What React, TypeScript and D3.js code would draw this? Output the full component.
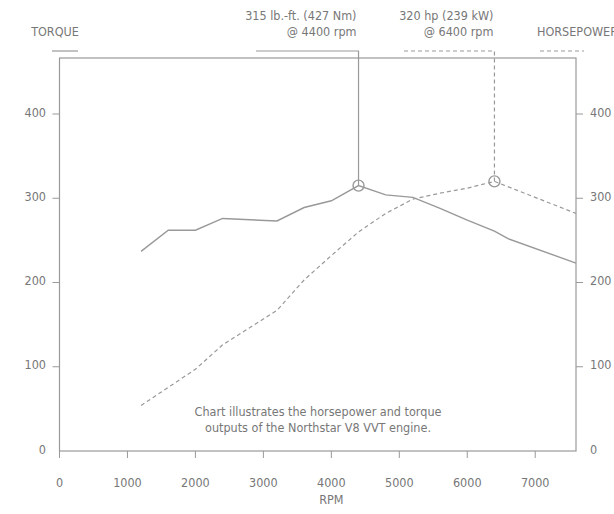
import React from "react";
import * as d3 from "d3";

const rpmTorque = [1200, 1600, 2000, 2400, 3200, 3600, 4000, 4400, 4800, 5200, 5600, 6000, 6400, 6600, 7600];
const torqueValues = [237, 262, 262, 276, 273, 289, 297, 315, 304, 301, 288, 274, 261, 252, 223];
const rpmHp = [1200, 2000, 2400, 3200, 3600, 4000, 4400, 4800, 5200, 5600, 6000, 6400, 7600];
const hpValues = [54, 97, 126, 167, 203, 232, 260, 282, 299, 306, 312, 320, 282];
const xTicks = [0, 1000, 2000, 3000, 4000, 5000, 6000, 7000];
const yTicks = [0, 100, 200, 300, 400];
const torquePeak = { rpm: 4400, value: 315, line1: "315 lb.-ft. (427 Nm)", line2: "@ 4400 rpm" };
const hpPeak = { rpm: 6400, value: 320, line1: "320 hp (239 kW)", line2: "@ 6400 rpm" };
const note = ["Chart illustrates the horsepower and torque", "outputs of the Northstar V8 VVT engine."];

const W = 614, H = 514;
const left = 59.5, right = 576, top = 58, bottom = 451;
const FONT = "'Liberation Sans Narrow', 'DejaVu Sans Condensed', 'Roboto Condensed', sans-serif";
const TEXT = "#777";
const LINE = "#999";

export default function App() {
  const x = d3.scaleLinear().domain([0, 7600]).range([left, right]);
  const y = d3.scaleLinear().domain([0, 400]).range([bottom, 114]);
  const line = d3.line<[number, number]>().x((d) => x(d[0])).y((d) => y(d[1]));
  const tPath = line(rpmTorque.map((r, i) => [r, torqueValues[i]]) as [number, number][]) || "";
  const hPath = line(rpmHp.map((r, i) => [r, hpValues[i]]) as [number, number][]) || "";
  const legendY = 51;
  const tx = x(torquePeak.rpm), ty = y(torquePeak.value);
  const hx = x(hpPeak.rpm), hy = y(hpPeak.value);
  const fs = 12.5;
  return (
    <svg width={W} height={H} style={{ position: "absolute", left: 0, top: 0, background: "#fff" }} fontFamily={FONT}>
      {/* frame */}
      <rect x={left} y={top} width={right - left} height={bottom - top} fill="none" stroke={LINE} strokeWidth={1.2} />
      {/* left axis ticks */}
      {yTicks.map((t) => (
        <g key={"l" + t}>
          {t > 0 && <line x1={left - 7} x2={left} y1={y(t)} y2={y(t)} stroke={LINE} strokeWidth={1} />}
          <text x={46} y={y(t) - 1} textAnchor="end" dominantBaseline="middle" fontSize={fs} fill={TEXT}>{t}</text>
          {t > 0 && <line x1={right} x2={right + 7} y1={y(t)} y2={y(t)} stroke={LINE} strokeWidth={1} />}
          <text x={590} y={y(t) - 1} textAnchor="start" dominantBaseline="middle" fontSize={fs} fill={TEXT}>{t}</text>
        </g>
      ))}
      {/* x axis ticks */}
      {xTicks.map((t) => (
        <g key={"x" + t}>
          <line x1={x(t)} x2={x(t)} y1={bottom} y2={bottom + 7} stroke={LINE} strokeWidth={1} />
          <text x={x(t)} y={483} textAnchor="middle" dominantBaseline="middle" fontSize={fs} fill={TEXT}>{t}</text>
        </g>
      ))}
      <text x={x(4000)} y={500} textAnchor="middle" dominantBaseline="middle" fontSize={fs} fill={TEXT}>RPM</text>
      {/* series */}
      <path d={hPath} fill="none" stroke={LINE} strokeWidth={1.2} strokeDasharray="4,3" />
      <path d={tPath} fill="none" stroke={LINE} strokeWidth={1.4} />
      {/* legend */}
      <text x={55} y={32} textAnchor="middle" dominantBaseline="middle" fontSize={fs} fill={TEXT}>TORQUE</text>
      <line x1={52} x2={78} y1={legendY} y2={legendY} stroke={LINE} strokeWidth={1.2} />
      <text x={537} y={32} textAnchor="start" dominantBaseline="middle" fontSize={fs} fill={TEXT}>HORSEPOWER</text>
      <line x1={540} x2={584} y1={legendY} y2={legendY} stroke={LINE} strokeWidth={1.2} strokeDasharray="4,3" />
      {/* torque annotation */}
      <text x={tx - 2} y={16} textAnchor="end" dominantBaseline="middle" fontSize={fs} fill={TEXT}>{torquePeak.line1}</text>
      <text x={tx - 2} y={32} textAnchor="end" dominantBaseline="middle" fontSize={fs} fill={TEXT}>{torquePeak.line2}</text>
      <polyline points={`256,${legendY} ${tx},${legendY} ${tx},${ty}`} fill="none" stroke={LINE} strokeWidth={1.2} />
      <circle cx={tx} cy={ty} r={5.5} fill="none" stroke={LINE} strokeWidth={1.4} />
      {/* hp annotation */}
      <text x={hx - 1} y={16} textAnchor="end" dominantBaseline="middle" fontSize={fs} fill={TEXT}>{hpPeak.line1}</text>
      <text x={hx - 1} y={32} textAnchor="end" dominantBaseline="middle" fontSize={fs} fill={TEXT}>{hpPeak.line2}</text>
      <polyline points={`404,${legendY} ${hx},${legendY} ${hx},${hy}`} fill="none" stroke={LINE} strokeWidth={1.2} strokeDasharray="4,3" />
      <circle cx={hx} cy={hy} r={5.5} fill="none" stroke={LINE} strokeWidth={1.4} />
      {/* note */}
      {note.map((s, i) => (
        <text key={i} x={318} y={412 + i * 16} textAnchor="middle" dominantBaseline="middle" fontSize={fs} fill={TEXT}>{s}</text>
      ))}
    </svg>
  );
}
